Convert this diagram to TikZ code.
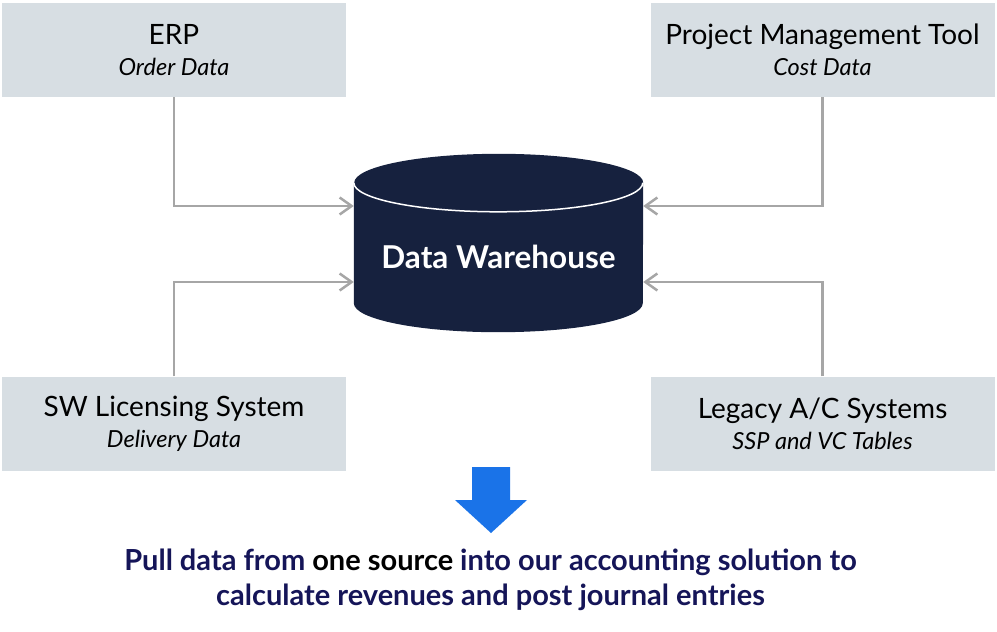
\documentclass[tikz,border=0pt]{standalone}
\usepackage{fontspec}
\setmainfont{Lato}
\usetikzlibrary{arrows.meta,backgrounds}
\definecolor{boxgray}{HTML}{D7DEE3}
\definecolor{linegray}{HTML}{A6A6A6}
\definecolor{dwnavy}{HTML}{16213E}
\definecolor{textnavy}{HTML}{151558}
\definecolor{pullblue}{HTML}{1A73E8}
\newcommand{\srcsub}[1]{{\fontsize{23.5}{31}\selectfont\itshape #1}}

\begin{document}
\begin{tikzpicture}
      [x=1pt,y=1pt,
      source/.style={shape=rectangle,fill=boxgray,minimum width=344pt,minimum height=94pt,
        inner sep=0pt,align=center,font=\fontsize{28}{31}\selectfont},
      dwbox/.style={shape=rectangle,minimum width=289pt,minimum height=178pt,inner sep=0pt,
        text height=50pt,text depth=0pt,text=white,font=\fontsize{31.5}{32}\selectfont\bfseries},
      pulltext/.style={align=center,text=textnavy,font=\fontsize{29}{35}\selectfont\bfseries},
      feed/.style={draw=linegray,line width=2.5pt,-{Straight Barb[length=12pt,width=17pt]}}]
\useasboundingbox (0,0) rectangle (997,-632);
\node[source] (erp) at (174,-50) {ERP\\\srcsub{Order Data}};
\node[source] (pmt) at (822.5,-50) {Project Management Tool\\\srcsub{Cost Data}};
\node[source] (swl) at (174,-423.5) {SW Licensing System\\\srcsub{Delivery Data}};
\node[source] (legacy) at (822.5,-423.5) {Legacy A/C Systems\\\srcsub{SSP and VC Tables}};
\node[dwbox] (dw) at (498.5,-243) {Data Warehouse};
\begin{scope}[on background layer]
  \fill[dwnavy] ([yshift=-29pt]dw.north west) -- ([yshift=29pt]dw.south west)
    arc[start angle=180,end angle=360,x radius=144.5pt,y radius=29pt]
    -- ([yshift=-29pt]dw.north east)
    arc[start angle=0,end angle=180,x radius=144.5pt,y radius=29pt] -- cycle;
  \draw[white,line width=1.5pt] ([yshift=-29pt]dw.north west)
    arc[start angle=180,end angle=360,x radius=144.5pt,y radius=29pt];
\end{scope}
\draw[feed] (erp.south) |- ([yshift=37pt]dw.west);
\draw[feed] (pmt.south) |- ([yshift=37pt]dw.east);
\draw[feed] (swl.north) |- ([yshift=-39pt]dw.west);
\draw[feed] (legacy.north) |- ([yshift=-39pt]dw.east);
\fill[pullblue] (472,-467) -- (510,-467) -- (510,-500) -- (527,-500) -- (491,-533)
  -- (455,-500) -- (472,-500) -- cycle;
\node[pulltext] (pull) at (490.5,-579.5)
  {Pull data from {\color{black}one source} into our accounting solution to\\
   calculate revenues and post journal entries};
\end{tikzpicture}
\end{document}
